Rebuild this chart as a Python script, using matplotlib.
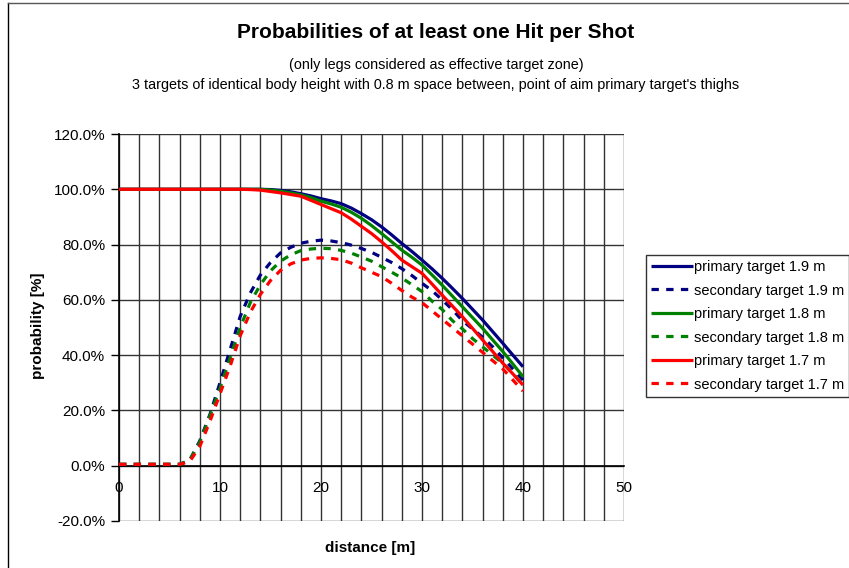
import numpy as np
import matplotlib
matplotlib.use("Agg")
import matplotlib.pyplot as plt
from matplotlib.lines import Line2D

plt.rcParams['font.family'] = ['Liberation Sans', 'DejaVu Sans']

# distance [m]
distance = list(range(0, 41))

# primary targets (solid)
primary_19 = [100] * 14 + [100, 99.9, 99.6, 99.1, 98.4, 97.6, 96.6, 95.8, 94.8, 93.2,
                           91.2, 89.0, 86.4, 83.5, 80.4, 77.5, 74.4, 71.2, 67.8, 64.2,
                           60.5, 56.6, 52.7, 48.5, 44.3, 40.0, 35.8]
primary_18 = [100] * 14 + [100, 99.7, 99.3, 98.7, 98.0, 97.0, 95.7, 94.7, 93.5, 91.7,
                           89.5, 86.9, 84.0, 81.0, 78.0, 75.4, 72.6, 69.0, 65.3, 61.4,
                           57.5, 53.6, 49.7, 45.5, 41.3, 36.8, 32.2]
primary_17 = [100] * 13 + [99.9, 99.7, 99.2, 98.7, 98.1, 97.5, 96.0, 94.5, 93.0, 91.5,
                           89.2, 86.6, 84.0, 81.0, 77.8, 74.4, 72.0, 69.6, 65.7, 61.7,
                           57.8, 53.9, 49.7, 45.5, 41.3, 37.1, 33.2, 29.2]

# secondary targets (dashed)
secondary_19 = [0.5] * 7 + [2.0, 9.0, 18.5, 30.0, 42.0, 54.0, 62.5, 69.0, 73.5, 77.0,
                            79.0, 80.5, 81.2, 81.6, 81.3, 80.7, 79.8, 78.6, 77.2, 75.4,
                            73.5, 71.3, 68.8, 66.0, 63.3, 60.0, 56.5, 52.5, 49.5, 46.5,
                            43.0, 39.0, 35.0, 31.0]
secondary_18 = [0.5] * 7 + [2.0, 8.5, 18.0, 28.0, 39.0, 50.0, 59.0, 65.5, 70.5, 74.0,
                            76.3, 77.8, 78.4, 78.7, 78.5, 77.9, 76.9, 75.5, 74.0, 72.0,
                            70.0, 67.9, 65.5, 63.0, 59.5, 56.5, 52.5, 49.5, 46.0, 43.0,
                            40.0, 37.0, 33.5, 29.0]
secondary_17 = [0.5] * 7 + [1.5, 7.0, 16.0, 26.0, 36.0, 47.0, 55.5, 62.0, 67.0, 70.7,
                            73.0, 74.4, 75.0, 75.2, 75.0, 74.5, 73.3, 71.6, 70.0, 68.4,
                            66.0, 63.4, 61.0, 59.0, 56.0, 53.0, 50.0, 47.0, 44.0, 41.0,
                            38.0, 35.0, 31.0, 27.0]

dash = (0, (2.3, 2.3))
series = [
    ("primary target 1.9 m", primary_19, '#000080', '-'),
    ("secondary target 1.9 m", secondary_19, '#000080', dash),
    ("primary target 1.8 m", primary_18, '#008000', '-'),
    ("secondary target 1.8 m", secondary_18, '#008000', dash),
    ("primary target 1.7 m", primary_17, '#ff0000', '-'),
    ("secondary target 1.7 m", secondary_17, '#ff0000', dash),
]

fig = plt.figure(figsize=(8.49, 5.68), dpi=100)
ax = fig.add_axes([119 / 849, 1 - 521 / 568, 505 / 849, 387 / 568])

for label, vals, color, ls in series:
    ax.plot(distance, vals, color=color, linestyle=ls, linewidth=2.3,
            label=label, zorder=3, solid_capstyle='butt', dash_capstyle='butt')

ax.set_xlim(0, 50)
ax.set_ylim(-20, 120)

# grid
for gx in np.arange(0, 51, 2):
    ax.axvline(gx, color='#333333', linewidth=1.0, zorder=1)
for gy in np.arange(-20, 121, 20):
    ax.axhline(gy, color='#333333', linewidth=1.0, zorder=1)

for s in ['top', 'right']:
    ax.spines[s].set_visible(False)
ax.spines['left'].set_linewidth(1.2)
ax.spines['bottom'].set_position(('data', 0))
ax.spines['bottom'].set_linewidth(1.2)

ax.set_yticks(np.arange(-20, 121, 20))
ax.set_yticklabels(["%.1f%%" % v for v in np.arange(-20, 121, 20)], fontsize=11)
ax.tick_params(axis='y', direction='out', length=6, width=1, pad=4)

ax.set_xticks(np.arange(0, 51, 10))
ax.tick_params(axis='x', length=0, labelsize=11, pad=11)

ax.set_ylabel("probability [%]", fontsize=11, fontweight='bold')
ax.yaxis.set_label_coords((45 - 119) / 505, (521 - 326) / 387)
fig.text(370 / 849, 1 - 548 / 568, "distance [m]", fontsize=11, fontweight='bold',
         ha='center', va='center')

fig.text(436 / 849, 1 - 33 / 568, "Probabilities of at least one Hit per Shot",
         fontsize=15, fontweight='bold', ha='center', va='center')
fig.text(436 / 849, 1 - 65 / 568, "(only legs considered as effective target zone)",
         fontsize=10.4, ha='center', va='center')
fig.text(436 / 849, 1 - 85 / 568,
         "3 targets of identical body height with 0.8 m space between, point of aim primary target's thighs",
         fontsize=10.4, ha='center', va='center')

leg = fig.legend(loc='upper left', bbox_to_anchor=(646 / 849, 1 - 255 / 568),
                 fontsize=10.5, frameon=True, fancybox=False, handlelength=2.9,
                 handletextpad=0.05, labelspacing=0.65, borderpad=0.35, borderaxespad=0)
leg.get_frame().set_edgecolor('black')
leg.get_frame().set_linewidth(1.0)

# outer frame of the chart
fig.add_artist(Line2D([8 / 849, 8 / 849], [0, 1 - 3 / 568], transform=fig.transFigure,
                      color='black', linewidth=1.0))
fig.add_artist(Line2D([8 / 849, 1], [1 - 3 / 568, 1 - 3 / 568], transform=fig.transFigure,
                      color='#555555', linewidth=1.0))

fig.savefig("out.png", dpi=100)
